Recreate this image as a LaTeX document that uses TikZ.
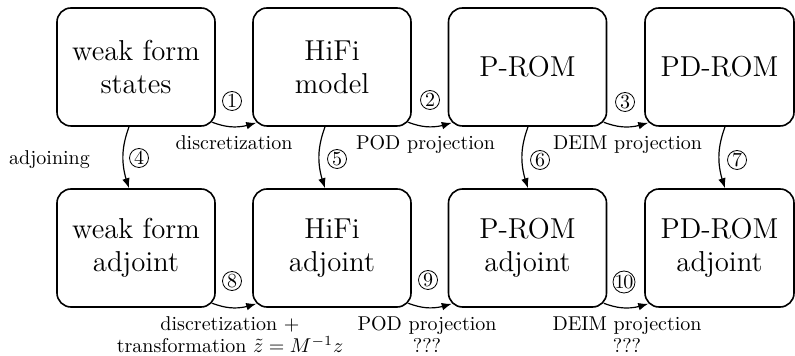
\documentclass[tikz,border=0pt]{standalone}
\usetikzlibrary{arrows.meta,bending}
\begin{document}
\begin{tikzpicture}[x=0.5pt,y=-0.5pt,
  box/.style={draw, thick, rounded corners=7pt, minimum width=79pt, minimum height=59pt,
    inner sep=0pt, align=center, font=\fontsize{14.4}{16.5}\selectfont},
  num/.style={draw, circle, inner sep=0pt, minimum size=9.5pt, font=\fontsize{10}{12}\selectfont},
  conn/.style={semithick, -{Latex[length=5pt,width=3.8pt]}},
  lbl/.style={inner sep=0pt, align=center, font=\fontsize{10}{11}\selectfont}]
\useasboundingbox (0,0) rectangle (795,356);
% boxes
\node[box] (ws) at (136,67) {weak form\\states};
\node[box] (hm) at (332,67) {HiFi\\model};
\node[box] (pr) at (527.5,67) {P-ROM};
\node[box, minimum width=74.5pt] (pd) at (719.5,67) {PD-ROM};
\node[box] (wa) at (136,248) {weak form\\adjoint};
\node[box] (ha) at (332,248) {HiFi\\adjoint};
\node[box] (pa) at (527.5,248) {P-ROM\\adjoint};
\node[box, minimum width=74.5pt] (da) at (719.5,248) {PD-ROM\\adjoint};
% horizontal connectors
\draw[conn] ([shift={(-3.5,-4.5)}]ws.south east) to[bend right=20] ([shift={(4,-4)}]hm.south west);
\draw[conn] ([shift={(-3.5,-4.5)}]hm.south east) to[bend right=20] ([shift={(4,-4)}]pr.south west);
\draw[conn] ([shift={(-3.5,-4.5)}]pr.south east) to[bend right=20] ([shift={(4,-4)}]pd.south west);
\draw[conn] ([shift={(-3.5,-4.5)}]wa.south east) to[bend right=20] ([shift={(4,-4)}]ha.south west);
\draw[conn] ([shift={(-3.5,-4.5)}]ha.south east) to[bend right=20] ([shift={(4,-4)}]pa.south west);
\draw[conn] ([shift={(-3.5,-4.5)}]pa.south east) to[bend right=20] ([shift={(4,-4)}]da.south west);
% vertical connectors
\draw[conn] ([shift={(-7,0)}]ws.south) to[bend right=20] ([shift={(-7,0)}]wa.north);
\draw[conn] ([shift={(-7,0)}]hm.south) to[bend right=20] ([shift={(-7,0)}]ha.north);
\draw[conn] ([shift={(0.5,0)}]pr.south) to[bend right=20] ([shift={(0.5,0)}]pa.north);
\draw[conn] ([shift={(5.5,0)}]pd.south) to[bend right=20] ([shift={(5.5,0)}]da.north);
% step numbers
\node[num] (n1) at (232,101) {\makebox[0pt]{1}};
\node[num] (n2) at (430,100) {\makebox[0pt]{2}};
\node[num] (n3) at (625,102) {\makebox[0pt]{3}};
\node[num] (n4) at (139,158) {\makebox[0pt]{4}};
\node[num] (n5) at (337,159) {\makebox[0pt]{5}};
\node[num] (n6) at (540,160) {\makebox[0pt]{6}};
\node[num] (n7) at (737,160) {\makebox[0pt]{7}};
\node[num] (n8) at (232,281) {\makebox[0pt]{8}};
\node[num] (n9) at (428,280) {\makebox[0pt]{9}};
\node[num, minimum size=11pt] (n10) at (624,282) {\makebox[0pt]{1\kern-0.6pt0}};
% labels
\node[lbl, anchor=base] (l1) at (49.5,165) {adjoining};
\node[lbl, anchor=base] (l2) at (234,150) {discretization};
\node[lbl, anchor=base] (l3) at (425.5,150) {POD projection};
\node[lbl, anchor=base] (l4) at (627.5,150) {DEIM projection};
\node[lbl, anchor=north] (l5) at (230,316) {discretization +\\transformation $\tilde{z} = M^{-1}z$};
\node[lbl, anchor=north] (l6) at (427,316) {POD projection\\???};
\node[lbl, anchor=north] (l7) at (627,316) {DEIM projection\\???};
\end{tikzpicture}
\end{document}
